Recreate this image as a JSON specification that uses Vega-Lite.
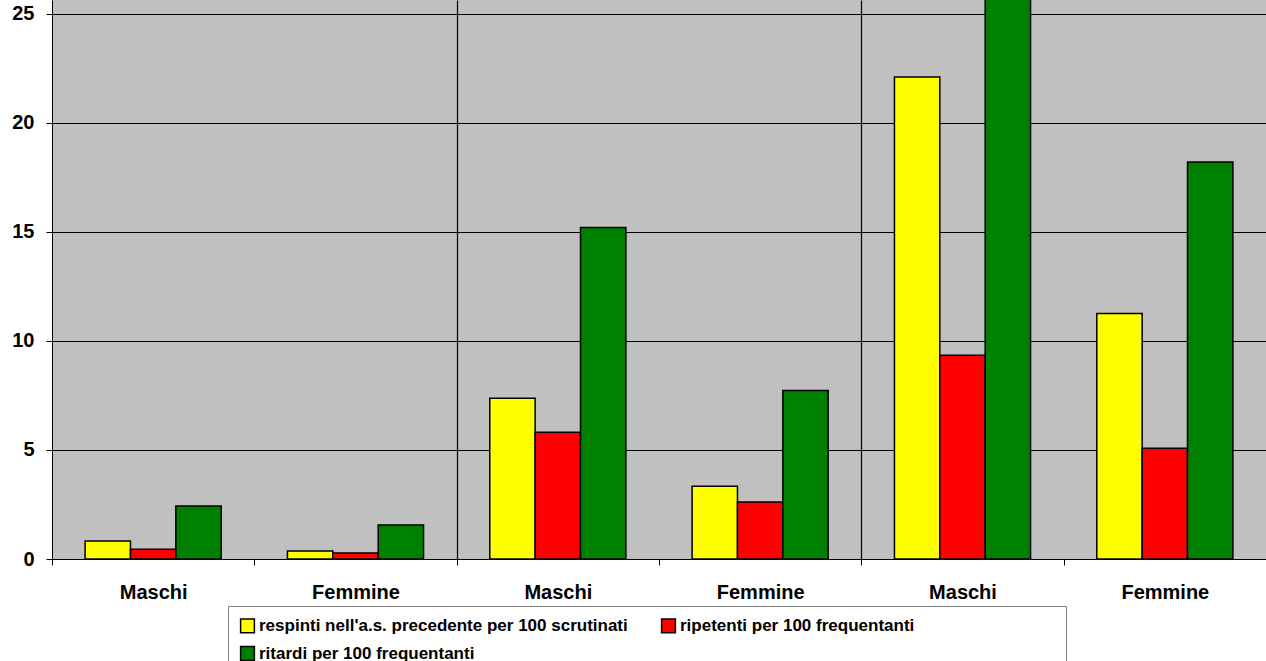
{
  "$schema": "https://vega.github.io/schema/vega-lite/v6.json",
  "width": 1214,
  "height": 559,
  "autosize": "none",
  "padding": {"left": 52, "top": 0, "right": 0, "bottom": 102},
  "background": "white",
  "config": {
    "view": {"fill": "#C0C0C0", "stroke": null},
    "font": "Liberation Sans"
  },
  "data": {"values": [
      {"g": "M1", "serie": "respinti nell'a.s. precedente per 100 scrutinati", "v": 0.82},
      {"g": "M1", "serie": "ripetenti per 100 frequentanti", "v": 0.45},
      {"g": "M1", "serie": "ritardi per 100 frequentanti", "v": 2.43},
      {"g": "F1", "serie": "respinti nell'a.s. precedente per 100 scrutinati", "v": 0.37},
      {"g": "F1", "serie": "ripetenti per 100 frequentanti", "v": 0.27},
      {"g": "F1", "serie": "ritardi per 100 frequentanti", "v": 1.56},
      {"g": "M2", "serie": "respinti nell'a.s. precedente per 100 scrutinati", "v": 7.37},
      {"g": "M2", "serie": "ripetenti per 100 frequentanti", "v": 5.81},
      {"g": "M2", "serie": "ritardi per 100 frequentanti", "v": 15.2},
      {"g": "F2", "serie": "respinti nell'a.s. precedente per 100 scrutinati", "v": 3.34},
      {"g": "F2", "serie": "ripetenti per 100 frequentanti", "v": 2.61},
      {"g": "F2", "serie": "ritardi per 100 frequentanti", "v": 7.73},
      {"g": "M3", "serie": "respinti nell'a.s. precedente per 100 scrutinati", "v": 22.1},
      {"g": "M3", "serie": "ripetenti per 100 frequentanti", "v": 9.34},
      {"g": "M3", "serie": "ritardi per 100 frequentanti", "v": 28.0},
      {"g": "F3", "serie": "respinti nell'a.s. precedente per 100 scrutinati", "v": 11.26},
      {"g": "F3", "serie": "ripetenti per 100 frequentanti", "v": 5.08},
      {"g": "F3", "serie": "ritardi per 100 frequentanti", "v": 18.2}
  ]},
  "mark": {"type": "bar", "stroke": "black", "strokeWidth": 1.5, "clip": true},
  "encoding": {
    "x": {
      "field": "g", "type": "nominal", "sort": null,
      "scale": {"domain": ["M1", "F1", "M2", "F2", "M3", "F3"], "paddingInner": 0, "paddingOuter": 0},
      "axis": {
        "title": null,
        "labelExpr": "(datum.value == 'M1' || datum.value == 'M2' || datum.value == 'M3') ? 'Maschi' : ((datum.value == 'F1' || datum.value == 'F2' || datum.value == 'F3') ? 'Femmine' : '')",
        "labelAngle": 0,
        "labelFontSize": 20,
        "labelFontWeight": "bold",
        "labelColor": "black",
        "labelPadding": 17,
        "tickBand": "extent",
        "tickColor": "black",
        "tickSize": 6,
        "domainColor": "black",
        "grid": true,
        "gridColor": "black",
        "gridWidth": 1.2,
        "gridOpacity": {"condition": {"test": "datum.value == 'F1' || datum.value == 'F2'", "value": 1}, "value": 0}
      }
    },
    "xOffset": {
      "field": "serie", "type": "nominal", "sort": null,
      "scale": {"paddingInner": 0, "paddingOuter": 0.73}
    },
    "y": {
      "field": "v", "type": "quantitative",
      "scale": {"domain": [0, 25.63], "nice": false},
      "axis": {
        "title": null,
        "values": [0, 5, 10, 15, 20, 25],
        "labelFontSize": 20,
        "labelFontWeight": "bold",
        "labelColor": "black",
        "labelPadding": 12,
        "tickColor": "black",
        "tickSize": 6,
        "domainColor": "black",
        "gridColor": "black",
        "gridOpacity": 1
      }
    },
    "fill": {
      "field": "serie", "type": "nominal", "sort": null,
      "scale": {
        "domain": ["respinti nell'a.s. precedente per 100 scrutinati", "ripetenti per 100 frequentanti", "ritardi per 100 frequentanti"],
        "range": ["#FFFF00", "#FF0000", "#008000"]
      },
      "legend": {
        "orient": "none",
        "legendX": 176,
        "legendY": 606,
        "direction": "horizontal",
        "columns": 2,
        "title": " ",
        "titleOrient": "right",
        "titlePadding": 141,
        "titleFontSize": 17,
        "symbolType": "square",
        "symbolSize": 190,
        "symbolStrokeColor": "black",
        "symbolStrokeWidth": 1.5,
        "labelFontSize": 17,
        "labelFontWeight": "bold",
        "labelColor": "black",
        "labelLimit": 600,
        "labelOffset": 3,
        "columnPadding": 30,
        "rowPadding": 7,
        "padding": 11,
        "strokeColor": "#808080",
        "fillColor": "white"
      }
    }
  }
}
